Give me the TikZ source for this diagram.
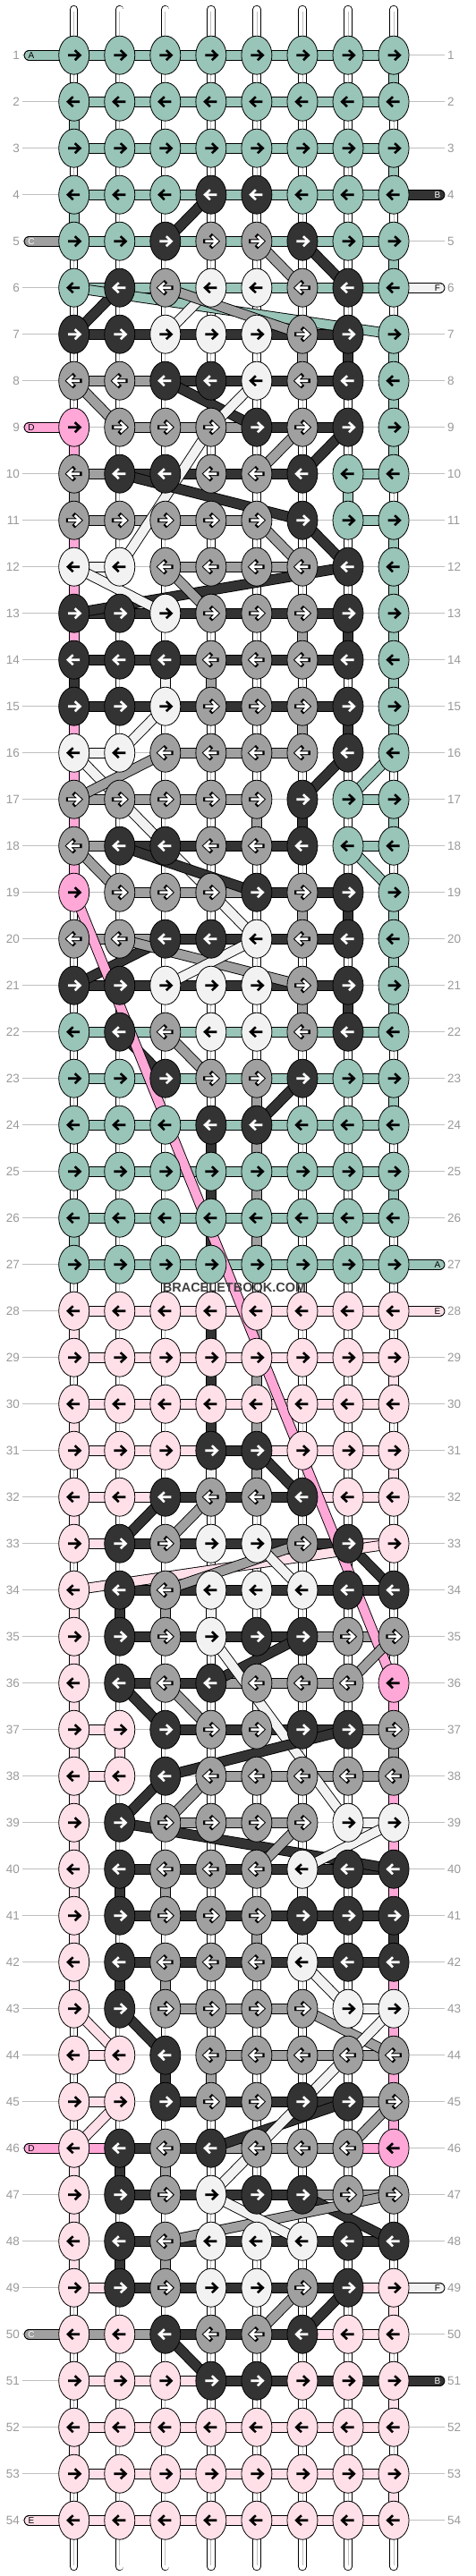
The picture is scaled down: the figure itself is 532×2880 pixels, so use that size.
\documentclass[tikz,border=0pt]{standalone}
\usepackage{fontspec}
\setmainfont{Liberation Sans}
\usetikzlibrary{positioning,shapes.geometric}

\definecolor{cM}{RGB}{153,196,184}
\definecolor{cK}{RGB}{51,51,51}
\definecolor{cG}{RGB}{160,160,160}
\definecolor{cW}{RGB}{242,242,242}
\definecolor{cP}{RGB}{255,224,232}
\definecolor{cH}{RGB}{255,168,216}
\colorlet{arM}{black}\colorlet{olM}{cM}
\colorlet{arK}{white}\colorlet{olK}{cK}
\colorlet{arG}{white}\colorlet{olG}{black}
\colorlet{arW}{black}\colorlet{olW}{cW}
\colorlet{arP}{black}\colorlet{olP}{cP}
\colorlet{arH}{black}\colorlet{olH}{cH}

\pgfdeclarelayer{rowlines}
\pgfdeclarelayer{basestrands}
\pgfdeclarelayer{workstrands}
\pgfsetlayers{rowlines,basestrands,workstrands,main}

% row / knot colours / bars between neighbours (N = none)
\def\knotdata{%
1/{M,M,M,M,M,M,M,M}/{M,M,M,M,M,M,M},%
2/{M,M,M,M,M,M,M,M}/{M,M,M,M,M,M,M},%
3/{M,M,M,M,M,M,M,M}/{M,M,M,M,M,M,M},%
4/{M,M,M,K,K,M,M,M}/{M,M,M,M,M,M,M},%
5/{M,M,K,G,G,K,M,M}/{M,M,M,M,M,M,M},%
6/{M,K,G,W,W,G,K,M}/{M,M,M,M,M,M,M},%
7/{K,K,W,W,W,G,K,M}/{K,K,K,K,K,K,N},%
8/{G,G,K,K,W,G,K,M}/{G,G,K,K,K,K,N},%
9/{H,G,G,G,K,G,K,M}/{N,G,G,G,K,K,N},%
10/{G,K,K,G,G,K,M,M}/{G,K,K,K,K,N,M},%
11/{G,G,G,G,G,K,M,M}/{G,G,G,G,N,N,M},%
12/{W,W,G,G,G,G,K,M}/{W,N,G,G,G,N,N},%
13/{K,K,W,G,G,G,K,M}/{K,K,K,K,K,K,N},%
14/{K,K,K,G,G,G,K,M}/{K,K,K,K,K,K,N},%
15/{K,K,W,G,G,G,K,M}/{K,K,K,K,K,K,N},%
16/{W,W,G,G,G,G,K,M}/{W,N,G,G,G,N,N},%
17/{G,G,G,G,G,K,M,M}/{G,G,G,G,N,N,M},%
18/{G,K,K,G,G,K,M,M}/{G,K,K,K,K,N,M},%
19/{H,G,G,G,K,G,K,M}/{N,G,G,G,K,K,N},%
20/{G,G,K,K,W,G,K,M}/{G,G,K,K,K,K,N},%
21/{K,K,W,W,W,G,K,M}/{K,K,K,K,K,K,N},%
22/{M,K,G,W,W,G,K,M}/{M,M,M,M,M,M,M},%
23/{M,M,K,G,G,K,M,M}/{M,M,M,M,M,M,M},%
24/{M,M,M,K,K,M,M,M}/{M,M,M,M,M,M,M},%
25/{M,M,M,M,M,M,M,M}/{M,M,M,M,M,M,M},%
26/{M,M,M,M,M,M,M,M}/{M,M,M,M,M,M,M},%
27/{M,M,M,M,M,M,M,M}/{M,M,M,M,M,M,M},%
28/{P,P,P,P,P,P,P,P}/{P,P,P,P,P,P,P},%
29/{P,P,P,P,P,P,P,P}/{P,P,P,P,P,P,P},%
30/{P,P,P,P,P,P,P,P}/{P,P,P,P,P,P,P},%
31/{P,P,P,K,K,P,P,P}/{P,P,P,K,P,P,P},%
32/{P,P,K,G,G,K,P,P}/{P,P,K,K,K,P,P},%
33/{P,K,G,W,W,G,K,P}/{P,K,K,K,K,K,P},%
34/{P,K,G,W,W,W,K,K}/{N,K,K,K,K,K,K},%
35/{P,K,G,W,K,K,G,G}/{N,K,K,K,K,G,G},%
36/{P,K,G,K,G,G,G,H}/{N,K,K,G,G,G,N},%
37/{P,P,K,G,G,K,K,G}/{P,N,K,K,K,K,G},%
38/{P,P,K,G,G,G,G,G}/{P,N,N,G,G,G,G},%
39/{P,K,G,G,G,G,W,W}/{N,N,G,G,G,N,W},%
40/{P,K,G,G,G,W,K,K}/{N,K,K,K,K,K,K},%
41/{P,K,G,G,G,K,K,K}/{N,K,K,K,K,K,K},%
42/{P,K,G,G,G,W,K,K}/{N,K,K,K,K,K,K},%
43/{P,K,G,G,G,G,W,W}/{N,N,G,G,G,N,W},%
44/{P,P,K,G,G,G,G,G}/{P,N,N,G,G,G,G},%
45/{P,P,K,G,G,K,K,G}/{P,N,K,K,K,K,G},%
46/{P,K,G,K,G,G,G,H}/{H,K,K,G,G,G,H},%
47/{P,K,G,W,K,K,G,G}/{N,K,K,K,K,G,G},%
48/{P,K,G,W,W,W,K,K}/{N,K,K,K,K,K,K},%
49/{P,K,G,W,W,G,K,P}/{P,K,K,K,K,K,P},%
50/{P,P,K,G,G,K,P,P}/{G,G,K,K,K,P,P},%
51/{P,P,P,K,K,P,P,P}/{P,P,P,K,K,K,K},%
52/{P,P,P,P,P,P,P,P}/{P,P,P,P,P,P,P},%
53/{P,P,P,P,P,P,P,P}/{P,P,P,P,P,P,P},%
54/{P,P,P,P,P,P,P,P}/{P,P,P,P,P,P,P}%
}

\begin{document}
\begin{tikzpicture}[x=1pt,y=-1pt,
  knot/.style={ellipse, draw=black, line width=0.8pt, minimum width=34pt, minimum height=43pt, inner sep=0pt},
  strand/.style={draw=black, line width=0.9pt, double=#1, double distance=10pt},
  basestrand/.style={draw=black, line width=0.9pt, double=white, double distance=7.5pt, line cap=round},
  rowline/.style={draw=black!25, line width=0.8pt},
  rowlabel/.style={text=black!40, inner xsep=3pt, inner ysep=0pt, font=\fontsize{13.5}{13.5}\selectfont},
  endlabel/.style={inner sep=0pt, font=\fontsize{10}{10}\selectfont}]
\useasboundingbox (0,0) rectangle (532,2880);

% knots and arrows
\foreach \r/\knots/\bars in \knotdata {
  \pgfmathsetmacro\dir{ifthenelse(mod(\r,2)==1,1,-1)}
  \foreach \kc [count=\c] in \knots {
    \node[knot, fill=c\kc] (k\r-\c) at ({82.7+51.05*(\c-1)}, {61.7+52*(\r-1)}) {};
    \begin{scope}[shift={(k\r-\c.center)}, xscale=\dir]
      \draw[olK, line width=4.6pt, draw=ol\kc, line cap=rect] (-6.5,0) -- (6,0) (1,-5.5) -- (6.8,0) -- (1,5.5);
      \draw[line width=2.6pt, draw=ar\kc] (-6.5,0) -- (6,0) (1,-5.5) -- (6.8,0) -- (1,5.5);
    \end{scope}
  }
}

% row numbers
\foreach \r in {1,...,54} {
  \node[rowlabel, anchor=east] (labl\r) at (25, {61.7+52*(\r-1)}) {\r};
  \node[rowlabel, anchor=west] (labr\r) at (497, {61.7+52*(\r-1)}) {\r};
  \begin{pgfonlayer}{rowlines}
    \draw[rowline] (labl\r.east) -- (labr\r.west);
  \end{pgfonlayer}
}

% base strands
\foreach \c in {1,...,8} {
  \coordinate (top\c) at ({82.7+51.05*(\c-1)}, 10.5);
  \coordinate (bot\c) at ({82.7+51.05*(\c-1)}, 2869.5);
  \begin{pgfonlayer}{basestrands}
    \draw[basestrand] (top\c) -- (bot\c);
    \draw[black!25, line width=0.8pt, shorten <=2pt, shorten >=2pt] (top\c) -- (bot\c);
  \end{pgfonlayer}
}

\begin{pgfonlayer}{workstrands}
% bars along the rows
\foreach \r/\knots/\bars in \knotdata {
  \foreach \bc [count=\c] in \bars {
    \if\bc N\relax\else
      \pgfmathtruncatemacro\cc{\c+1}
      \draw[strand=c\bc] (k\r-\c.center) -- (k\r-\cc.center);
    \fi
  }
}
% coloured pieces between rows
\foreach \r/\c/\vc in {1/8/M,2/1/M,3/8/M,4/1/M,5/8/M,7/6/G,7/7/K,7/8/M,8/8/M,9/1/H,9/8/M,
  10/1/G,10/7/M,11/1/H,11/8/M,12/1/H,12/8/M,13/1/H,13/6/G,13/7/K,13/8/M,14/1/K,14/3/W,14/4/G,14/8/M,
  15/1/H,15/6/G,15/7/K,15/8/M,16/1/H,17/1/H,17/5/G,17/6/K,17/8/M,18/1/H,19/6/G,19/7/K,19/8/M,
  20/8/M,21/6/G,21/7/K,21/8/M,23/5/G,23/8/M,24/4/K,24/5/G,25/4/K,25/5/G,25/8/M,26/1/M,26/4/K,26/5/G,
  28/1/P,28/4/K,28/5/G,29/4/K,29/5/G,29/8/P,30/1/P,30/4/K,30/5/G,31/4/W,31/5/G,31/8/P,32/1/P,
  34/1/P,34/2/K,34/3/G,34/4/W,35/1/P,36/1/P,36/8/H,37/1/P,37/2/P,37/8/G,38/1/P,38/8/H,39/1/P,39/8/H,
  40/1/P,40/2/K,40/3/G,40/6/W,40/8/H,41/1/P,41/5/G,41/6/W,41/8/K,42/1/P,42/2/K,42/3/G,42/8/H,43/8/H,
  44/3/K,44/4/G,44/8/H,45/8/H,46/1/P,46/2/K,46/3/G,47/1/P,48/1/P,48/2/K,48/3/G,49/8/P,51/8/P,52/1/P,53/8/P} {
  \pgfmathtruncatemacro\rr{\r+1}
  \draw[strand=c\vc] (k\r-\c.center) -- (k\rr-\c.center);
}
% crossing strands
\foreach \ra/\ca/\rb/\cb/\dc in {4/4/5/3/K,5/5/6/6/G,5/6/6/7/K,6/2/7/1/K,6/1/7/8/M,6/4/7/3/W,6/3/7/6/G,
  8/3/9/5/K,8/5/9/4/W,8/1/9/2/G,9/6/10/5/G,9/7/10/6/K,9/4/12/2/W,10/2/11/6/K,11/6/12/7/K,11/5/12/6/G,
  12/7/13/1/K,12/1/13/3/W,12/3/13/4/G,15/3/16/2/W,16/1/20/5/W,17/1/16/3/G,16/7/17/6/K,16/8/17/7/M,
  18/7/19/8/M,18/1/19/2/G,18/2/19/5/K,21/1/20/3/K,20/2/21/6/G,21/3/20/5/W,22/2/23/3/K,22/3/23/4/G,
  23/6/24/5/K,19/1/36/8/H,31/5/32/6/K,32/3/33/2/K,32/4/33/3/G,33/7/34/8/K,34/1/33/8/P,34/3/33/6/G,
  33/5/34/6/W,35/6/36/4/K,35/4/39/7/W,35/8/36/7/G,36/2/37/3/K,36/3/37/4/G,37/7/38/3/K,38/3/39/2/K,
  38/4/39/3/G,39/2/40/8/K,39/8/40/6/W,39/6/40/5/G,42/6/43/7/W,43/2/44/3/K,43/1/44/2/P,43/6/44/8/G,
  43/8/44/7/W,44/7/45/6/W,45/2/46/1/P,45/7/46/4/K,45/6/47/4/W,45/8/46/7/G,47/6/48/8/K,47/8/48/3/G,
  47/4/48/6/W,49/6/50/5/G,49/7/50/6/K,50/3/51/4/K} {
  \draw[strand=c\dc] (k\ra-\ca.center) -- (k\rb-\cb.center);
}
% loose ends
\foreach \r/\side/\sc/\lt/\ltc in {1/l/M/A/black,4/r/K/B/white,5/l/G/C/white,6/r/W/F/black,
  9/l/H/D/black,27/r/M/A/black,28/r/P/E/black,46/l/H/D/black,49/r/W/F/black,50/l/G/C/white,
  51/r/K/B/white,54/l/P/E/black} {
  \if\side l
    \coordinate (end\r) at (32.5, {61.7+52*(\r-1)});
    \draw[strand=c\sc, line cap=round] (end\r) -- (k\r-1.center);
    \node[endlabel, text=\ltc] (tag\r) at (35, {61.7+52*(\r-1)}) {\lt};
  \else
    \coordinate (end\r) at (491.5, {61.7+52*(\r-1)});
    \draw[strand=c\sc, line cap=round] (k\r-8.center) -- (end\r);
    \node[endlabel, text=\ltc] (tag\r) at (489, {61.7+52*(\r-1)}) {\lt};
  \fi
}
\end{pgfonlayer}

\node[text=black!75, font=\bfseries\fontsize{14.5}{14.5}\selectfont, inner sep=0pt] (site) at (262, 1439) {BRACELETBOOK.COM};
\end{tikzpicture}
\end{document}
